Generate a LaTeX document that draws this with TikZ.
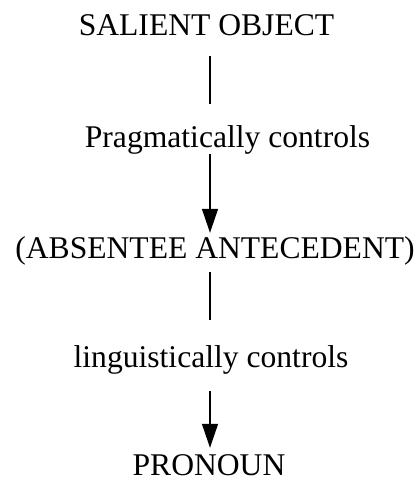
\documentclass[tikz,border=0pt]{standalone}
\usepackage{fontspec}
\setmainfont{Liberation Serif}
\usetikzlibrary{arrows.meta}
\begin{document}
\begin{tikzpicture}[x=1pt,y=1pt,
  lbl/.style={anchor=base,inner sep=0pt,text height=23pt,text depth=7pt,font=\fontsize{31.6}{38}\selectfont},
  conn/.style={line width=1.4pt},
  arr/.style={line width=1.4pt,-{Triangle[length=24pt,width=16pt]}}]
\useasboundingbox (0,0) rectangle (419,-479);
\coordinate (axis) at (210,0);
\node[lbl] (salient) at (206.5,-35) {SALIENT OBJECT};
\node[lbl] (prag) at (227.5,-147) {Pragmatically controls};
\node[lbl] (absent) at (215,-258) {(ABSENTEE ANTECEDENT)};
\node[lbl] (ling) at (211,-367) {linguistically controls};
\node[lbl,text depth=0pt] (pron) at (209,-475) {PRONOUN};
\draw[conn,shorten <=14pt,shorten >=20pt] (salient.south -| axis) -- (prag.north -| axis);
\draw[arr,shorten >=2pt] (prag.south -| axis) -- (absent.north -| axis);
\draw[conn,shorten <=7pt,shorten >=24pt] (absent.south -| axis) -- (ling.north -| axis);
\draw[arr,shorten <=17pt,shorten >=4pt] (ling.south -| axis) -- (pron.north -| axis);
\end{tikzpicture}
\end{document}
